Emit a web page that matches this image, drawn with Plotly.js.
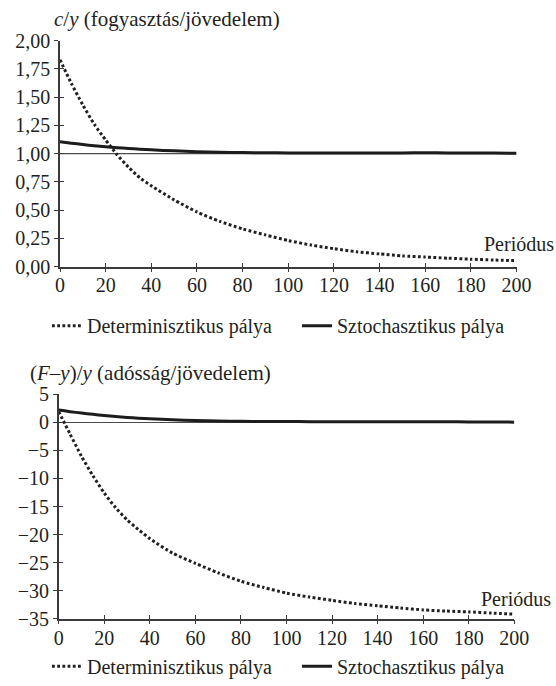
<!DOCTYPE html>
<html>
<head>
<meta charset="utf-8">
<script src="https://cdn.plot.ly/plotly-3.0.1.min.js"></script>
<style>html,body{margin:0;padding:0;background:#fff;}#chart{width:556px;height:686px;}</style>
</head>
<body>
<div id="chart"></div>
<script>
// ---- data ----
const periods = [0,5,10,15,20,25,30,35,40,50,60,70,80,90,100,110,120,130,140,150,160,170,180,190,200];
const cyDeterministic = [1.83,1.62,1.43,1.26,1.12,0.99,0.88,0.785,0.715,0.59,0.483,0.40,0.333,0.28,0.23,0.19,0.158,0.131,0.112,0.094,0.084,0.074,0.065,0.058,0.052];
const cyStochastic = [1.105,1.092,1.08,1.069,1.06,1.052,1.045,1.039,1.033,1.024,1.017,1.012,1.009,1.007,1.006,1.006,1.006,1.006,1.006,1.006,1.007,1.006,1.005,1.004,1.002];
const debtDeterministic = [1.9,-2.1,-6.05,-9.5,-12.6,-15.2,-17.35,-19.1,-20.7,-23.3,-25.1,-26.8,-28.3,-29.4,-30.4,-31.1,-31.7,-32.25,-32.65,-33.05,-33.4,-33.6,-33.75,-33.95,-34.15];
const debtStochastic = [2.2,1.9,1.65,1.42,1.2,1.02,0.87,0.73,0.62,0.44,0.31,0.23,0.18,0.15,0.13,0.12,0.11,0.10,0.10,0.10,0.10,0.10,0.08,0.06,0.03];
const seriesNames = ['Determinisztikus pálya','Sztochasztikus pálya'];
const xTickVals = [0,20,40,60,80,100,120,140,160,180,200];
const xTickText = ['0','20','40','60','80','100','120','140','160','180','200'];
const cyTickVals = [0,0.25,0.5,0.75,1,1.25,1.5,1.75,2];
const cyTickText = ['0,00','0,25','0,50','0,75','1,00','1,25','1,50','1,75','2,00'];
const debtTickVals = [-35,-30,-25,-20,-15,-10,-5,0,5];
const debtTickText = ['\u221235','\u221230','\u221225','\u221220','\u221215','\u221210','\u22125','0','5'];
const cyRefLine = 1;
const topTitle = '<i>c</i>/<i>y</i> (fogyasztás/jövedelem)';
const bottomTitle = '(<i>F</i>\u2013<i>y</i>)/<i>y</i> (adósság/jövedelem)';
const xLabel = 'Periódus';

// ---- styling ----
const FONT = 'Liberation Serif';
const TXT = '#231f20';
const AX = '#3a3a3a';
const dotLine = {color:'#231f20', width:3, dash:'2.8px,2.4px', shape:'spline', smoothing:0.6};
const solidLine = {color:'#1c1c1c', width:3, shape:'spline', smoothing:0.6};

const traces = [
  {x:periods, y:cyDeterministic, name:seriesNames[0], mode:'lines', line:dotLine, xaxis:'x', yaxis:'y', legend:'legend'},
  {x:periods, y:cyStochastic, name:seriesNames[1], mode:'lines', line:solidLine, xaxis:'x', yaxis:'y', legend:'legend'},
  {x:periods, y:debtDeterministic, name:seriesNames[0], mode:'lines', line:dotLine, xaxis:'x2', yaxis:'y2', legend:'legend2'},
  {x:periods, y:debtStochastic, name:seriesNames[1], mode:'lines', line:solidLine, xaxis:'x2', yaxis:'y2', legend:'legend2'},
  // empty helpers so that the overlay tick axes get drawn (cross ticks)
  {x:[], y:[], xaxis:'x3', yaxis:'y', showlegend:false, hoverinfo:'skip'},
  {x:[], y:[], xaxis:'x', yaxis:'y3', showlegend:false, hoverinfo:'skip'},
  {x:[], y:[], xaxis:'x4', yaxis:'y2', showlegend:false, hoverinfo:'skip'},
  {x:[], y:[], xaxis:'x2', yaxis:'y4', showlegend:false, hoverinfo:'skip'}
];

const W = 556, H = 686;
const topX = [60/W, 516.5/W];
const botX = [58.7/W, 514.3/W];
const topY = [1-269.3/H, 1-41/H];
const botY = [1-625.3/H, 1-398.3/H];

const baseX = {
  range:[0,200], tickmode:'array', tickvals:xTickVals, ticktext:xTickText,
  showline:true, linecolor:AX, linewidth:1.5, ticks:'inside', ticklen:4, tickwidth:1.3, tickcolor:AX,
  showgrid:false, zeroline:false, tickfont:{family:FONT, size:20, color:TXT}, fixedrange:true
};
const baseY = {
  tickmode:'array', showline:true, linecolor:AX, linewidth:1.5, ticks:'outside', ticklen:4, tickwidth:1.3, tickcolor:AX,
  showgrid:false, tickfont:{family:FONT, size:20, color:TXT}, fixedrange:true
};
const overlayTicks = {ticklen:4, tickwidth:1.3, tickcolor:AX, showline:false, showticklabels:false, showgrid:false, zeroline:false, fixedrange:true};

const layout = {
  width:W, height:H, margin:{l:0,r:0,t:0,b:0}, paper_bgcolor:'#fff', plot_bgcolor:'rgba(0,0,0,0)',
  font:{family:FONT, size:20, color:TXT},
  showlegend:true,
  xaxis: Object.assign({}, baseX, {domain:topX, anchor:'y'}),
  yaxis: Object.assign({}, baseY, {domain:topY, anchor:'x', range:[0,2], tickvals:cyTickVals, ticktext:cyTickText, zeroline:false}),
  xaxis2: Object.assign({}, baseX, {domain:botX, anchor:'y2'}),
  yaxis2: Object.assign({}, baseY, {domain:botY, anchor:'x2', range:[-35,5], tickvals:debtTickVals, ticktext:debtTickText, zeroline:true, zerolinecolor:'#4a4a4a', zerolinewidth:1.2}),
  xaxis3: Object.assign({}, overlayTicks, {ticks:'outside', overlaying:'x', anchor:'y', range:[0,200], tickmode:'array', tickvals:xTickVals}),
  yaxis3: Object.assign({}, overlayTicks, {ticks:'inside', overlaying:'y', anchor:'x', range:[0,2], tickmode:'array', tickvals:cyTickVals}),
  xaxis4: Object.assign({}, overlayTicks, {ticks:'outside', overlaying:'x2', anchor:'y2', range:[0,200], tickmode:'array', tickvals:xTickVals}),
  yaxis4: Object.assign({}, overlayTicks, {ticks:'inside', overlaying:'y2', anchor:'x2', range:[-35,5], tickmode:'array', tickvals:debtTickVals}),
  shapes:[
    {type:'line', xref:'x', yref:'y', x0:0, x1:200, y0:cyRefLine, y1:cyRefLine, line:{color:'#4a4a4a', width:1.2}, layer:'below'}
  ],
  legend:{orientation:'h', x:47/W, xanchor:'left', y:1-329/H, yanchor:'middle', font:{family:FONT, size:20, color:TXT}, bgcolor:'rgba(0,0,0,0)', itemwidth:30, entrywidth:205},
  legend2:{orientation:'h', x:47/W, xanchor:'left', y:1-673/H, yanchor:'middle', font:{family:FONT, size:20, color:TXT}, bgcolor:'rgba(0,0,0,0)', itemwidth:30, entrywidth:205},
  annotations:[
    {text:topTitle, xref:'paper', yref:'paper', x:52/W, y:1-19/H, xanchor:'left', yanchor:'middle', showarrow:false, font:{family:FONT, size:21, color:TXT}},
    {text:bottomTitle, xref:'paper', yref:'paper', x:28/W, y:1-377/H, xanchor:'left', yanchor:'middle', showarrow:false, font:{family:FONT, size:21, color:TXT}},
    {text:xLabel, xref:'paper', yref:'paper', x:556/W, y:1-247/H, xanchor:'right', yanchor:'middle', showarrow:false, font:{family:FONT, size:20, color:TXT}},
    {text:xLabel, xref:'paper', yref:'paper', x:553/W, y:1-605/H, xanchor:'right', yanchor:'middle', showarrow:false, font:{family:FONT, size:20, color:TXT}}
  ]
};

Plotly.newPlot('chart', traces, layout, {displayModeBar:false});
</script>
</body>
</html>
